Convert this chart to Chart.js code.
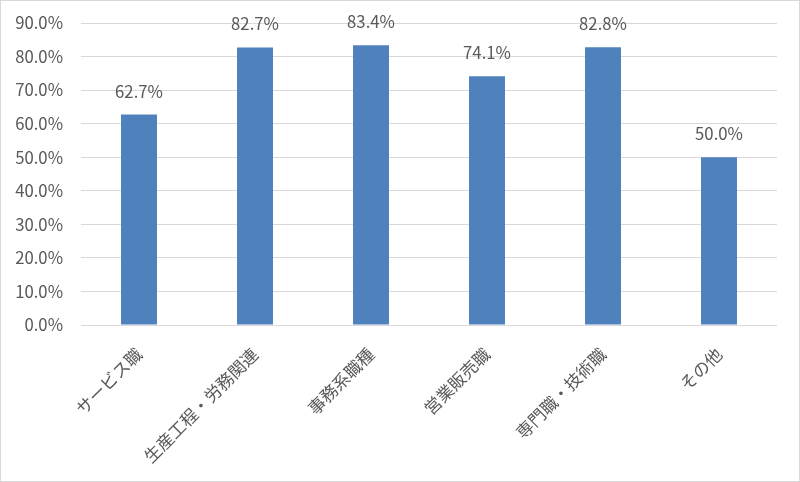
<!DOCTYPE html>
<html lang="ja">
<head>
<meta charset="UTF-8">
<title>職種別</title>
<style>
html, body { margin: 0; padding: 0; background: #fff; }
#wrap {
    position: relative;
    width: 798px;
    height: 480px;
    border: 1px solid #d9d9d9;
}
</style>
</head>
<body>
<div id="wrap"><canvas id="chart" width="798" height="480"></canvas></div>

<script src="https://cdn.jsdelivr.net/npm/chart.js"></script>
<script>
const categories = ['サービス職', '生産工程・労務関連', '事務系職種', '営業販売職', '専門職・技術職', 'その他'];
const values = [62.7, 82.7, 83.4, 74.1, 82.8, 50.0];
const yMax = 90;
const yStep = 10;

const FONT = '"Noto Sans CJK JP", "Noto Sans", sans-serif';
const TEXT = '#595959';

// values above each bar
const barLabels = {
    id: 'barLabels',
    afterDatasetsDraw(chart) {
        const { ctx } = chart;
        ctx.save();
        ctx.font = '16.7px ' + FONT;
        ctx.fillStyle = TEXT;
        ctx.textAlign = 'center';
        ctx.textBaseline = 'bottom';
        chart.getDatasetMeta(0).data.forEach((bar, i) => {
            ctx.fillText(values[i].toFixed(1) + '%', bar.x, bar.y - 15);
        });
        ctx.restore();
    }
};

new Chart(document.getElementById('chart'), {
    type: 'bar',
    data: {
        labels: categories,
        datasets: [{
            data: values,
            backgroundColor: '#4f81bd',
            barPercentage: 0.31,
            categoryPercentage: 1
        }]
    },
    options: {
        responsive: false,
        animation: false,
        layout: { padding: { top: 22, right: 22, left: 0, bottom: 0 } },
        plugins: { legend: { display: false }, tooltip: { enabled: false } },
        scales: {
            x: {
                grid: { display: false, drawTicks: false },
                border: { display: false },
                ticks: {
                    color: TEXT,
                    font: { family: FONT, size: 17 },
                    maxRotation: 45,
                    minRotation: 45,
                    padding: 19
                },
                afterFit(scale) {
                    scale.height = 480 - 324;
                    scale.paddingLeft = 0;
                    scale.paddingRight = 0;
                }
            },
            y: {
                min: 0,
                max: yMax,
                grid: { color: '#d9d9d9', lineWidth: 1, drawTicks: false },
                border: { display: false },
                ticks: {
                    stepSize: yStep,
                    color: TEXT,
                    font: { family: FONT, size: 16.7 },
                    padding: 18,
                    callback: v => v.toFixed(1) + '%'
                },
                afterFit(scale) {
                    scale.width = 80;
                    scale.paddingTop = 0;
                    scale.paddingBottom = 0;
                }
            }
        }
    },
    plugins: [barLabels]
});
</script>
</body>
</html>
